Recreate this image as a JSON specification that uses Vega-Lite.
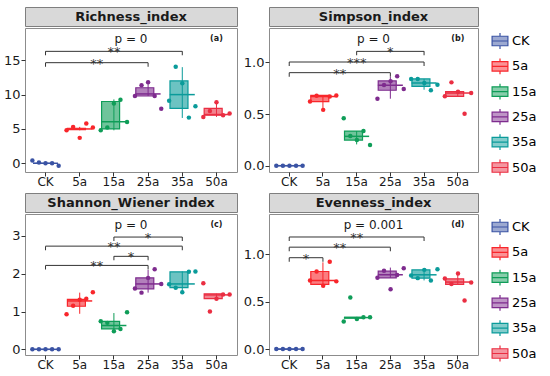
{
"$schema":"https://vega.github.io/schema/vega-lite/v6.json",
"padding":{"left":2,"top":6,"right":0,"bottom":0},
"config":{"font":"DejaVu Sans","view":{"stroke":"#8c8c8c","strokeWidth":1},
 "axis":{"grid":false,"domain":false,"tickColor":"#333333","tickSize":4,"labelColor":"#1a1a1a","labelFontSize":13,"labelPadding":1,"title":null},
 "axisX":{"labelFontSize":12,"labelPadding":0},
 "legend":{"labelFontSize":13,"labelOffset":3,"symbolType":"M-1,-0.6H1V0.6H-1Z M-1,0H1 M0,-1V-0.6 M0,0.6V1","symbolSize":250,"symbolStrokeWidth":1.2,"rowPadding":3.3,"padding":0}},
"datasets":{
"pts":[
{"p":"a","g":"CK","r":1,"v":0.4},{"p":"a","g":"CK","r":2,"v":0.1},{"p":"a","g":"CK","r":3,"v":0.0},{"p":"a","g":"CK","r":4,"v":0.0},{"p":"a","g":"CK","r":5,"v":-0.35},
{"p":"a","g":"5a","r":1,"v":4.8},{"p":"a","g":"5a","r":2,"v":5.3},{"p":"a","g":"5a","r":3,"v":3.7},{"p":"a","g":"5a","r":4,"v":5.8},{"p":"a","g":"5a","r":5,"v":5.2},
{"p":"a","g":"15a","r":1,"v":4.8},{"p":"a","g":"15a","r":2,"v":5.2},{"p":"a","g":"15a","r":3,"v":8.7},{"p":"a","g":"15a","r":4,"v":9.25},{"p":"a","g":"15a","r":5,"v":6.0},
{"p":"a","g":"25a","r":1,"v":9.8},{"p":"a","g":"25a","r":2,"v":11.35},{"p":"a","g":"25a","r":3,"v":11.8},{"p":"a","g":"25a","r":4,"v":9.8},{"p":"a","g":"25a","r":5,"v":7.95},
{"p":"a","g":"35a","r":1,"v":9.1},{"p":"a","g":"35a","r":2,"v":14.05},{"p":"a","g":"35a","r":3,"v":11.65},{"p":"a","g":"35a","r":4,"v":6.65},{"p":"a","g":"35a","r":5,"v":8.3},
{"p":"a","g":"50a","r":1,"v":6.75},{"p":"a","g":"50a","r":2,"v":7.6},{"p":"a","g":"50a","r":3,"v":8.9},{"p":"a","g":"50a","r":4,"v":7.0},{"p":"a","g":"50a","r":5,"v":7.25},
{"p":"b","g":"CK","r":1,"v":0},{"p":"b","g":"CK","r":2,"v":0},{"p":"b","g":"CK","r":3,"v":0},{"p":"b","g":"CK","r":4,"v":0},{"p":"b","g":"CK","r":5,"v":0},
{"p":"b","g":"5a","r":1,"v":0.62},{"p":"b","g":"5a","r":2,"v":0.677},{"p":"b","g":"5a","r":3,"v":0.54},{"p":"b","g":"5a","r":4,"v":0.67},{"p":"b","g":"5a","r":5,"v":0.68},
{"p":"b","g":"15a","r":1,"v":0.46},{"p":"b","g":"15a","r":2,"v":0.287},{"p":"b","g":"15a","r":3,"v":0.248},{"p":"b","g":"15a","r":4,"v":0.335},{"p":"b","g":"15a","r":5,"v":0.2},
{"p":"b","g":"25a","r":1,"v":0.648},{"p":"b","g":"25a","r":2,"v":0.78},{"p":"b","g":"25a","r":3,"v":0.816},{"p":"b","g":"25a","r":4,"v":0.865},{"p":"b","g":"25a","r":5,"v":0.742},
{"p":"b","g":"35a","r":1,"v":0.839},{"p":"b","g":"35a","r":2,"v":0.839},{"p":"b","g":"35a","r":3,"v":0.8},{"p":"b","g":"35a","r":4,"v":0.729},{"p":"b","g":"35a","r":5,"v":0.784},
{"p":"b","g":"50a","r":1,"v":0.671},{"p":"b","g":"50a","r":2,"v":0.806},{"p":"b","g":"50a","r":3,"v":0.716},{"p":"b","g":"50a","r":4,"v":0.503},{"p":"b","g":"50a","r":5,"v":0.703},
{"p":"c","g":"CK","r":1,"v":0},{"p":"c","g":"CK","r":2,"v":0},{"p":"c","g":"CK","r":3,"v":0},{"p":"c","g":"CK","r":4,"v":0},{"p":"c","g":"CK","r":5,"v":0},
{"p":"c","g":"5a","r":1,"v":0.93},{"p":"c","g":"5a","r":2,"v":1.15},{"p":"c","g":"5a","r":3,"v":1.31},{"p":"c","g":"5a","r":4,"v":1.34},{"p":"c","g":"5a","r":5,"v":1.51},
{"p":"c","g":"15a","r":1,"v":0.74},{"p":"c","g":"15a","r":2,"v":0.7},{"p":"c","g":"15a","r":3,"v":0.48},{"p":"c","g":"15a","r":4,"v":0.54},{"p":"c","g":"15a","r":5,"v":0.98},
{"p":"c","g":"25a","r":1,"v":1.61},{"p":"c","g":"25a","r":2,"v":1.5},{"p":"c","g":"25a","r":3,"v":1.89},{"p":"c","g":"25a","r":4,"v":2.12},{"p":"c","g":"25a","r":5,"v":1.73},
{"p":"c","g":"35a","r":1,"v":1.72},{"p":"c","g":"35a","r":2,"v":1.63},{"p":"c","g":"35a","r":3,"v":1.51},{"p":"c","g":"35a","r":4,"v":2.05},{"p":"c","g":"35a","r":5,"v":2.06},
{"p":"c","g":"50a","r":1,"v":1.75},{"p":"c","g":"50a","r":2,"v":1.0},{"p":"c","g":"50a","r":3,"v":1.34},{"p":"c","g":"50a","r":4,"v":1.45},{"p":"c","g":"50a","r":5,"v":1.45},
{"p":"d","g":"CK","r":1,"v":0},{"p":"d","g":"CK","r":2,"v":0},{"p":"d","g":"CK","r":3,"v":0},{"p":"d","g":"CK","r":4,"v":0},{"p":"d","g":"CK","r":5,"v":0},
{"p":"d","g":"5a","r":1,"v":0.723},{"p":"d","g":"5a","r":2,"v":0.817},{"p":"d","g":"5a","r":3,"v":0.668},{"p":"d","g":"5a","r":4,"v":0.92},{"p":"d","g":"5a","r":5,"v":0.713},
{"p":"d","g":"15a","r":1,"v":0.29},{"p":"d","g":"15a","r":2,"v":0.543},{"p":"d","g":"15a","r":3,"v":0.318},{"p":"d","g":"15a","r":4,"v":0.336},{"p":"d","g":"15a","r":5,"v":0.336},
{"p":"d","g":"25a","r":1,"v":0.75},{"p":"d","g":"25a","r":2,"v":0.824},{"p":"d","g":"25a","r":3,"v":0.63},{"p":"d","g":"25a","r":4,"v":0.78},{"p":"d","g":"25a","r":5,"v":0.851},
{"p":"d","g":"35a","r":1,"v":0.775},{"p":"d","g":"35a","r":2,"v":0.747},{"p":"d","g":"35a","r":3,"v":0.834},{"p":"d","g":"35a","r":4,"v":0.723},{"p":"d","g":"35a","r":5,"v":0.84},
{"p":"d","g":"50a","r":1,"v":0.744},{"p":"d","g":"50a","r":2,"v":0.685},{"p":"d","g":"50a","r":3,"v":0.796},{"p":"d","g":"50a","r":4,"v":0.512},{"p":"d","g":"50a","r":5,"v":0.702}
],
"box":[
{"p":"a","g":"CK","lo":0,"q1":0,"md":0,"q3":0,"hi":0},
{"p":"a","g":"5a","lo":4.8,"q1":4.9,"md":5.0,"q3":5.1,"hi":5.3},
{"p":"a","g":"15a","lo":4.8,"q1":5.0,"md":6.05,"q3":9.0,"hi":9.3},
{"p":"a","g":"25a","lo":9.8,"q1":9.8,"md":10.1,"q3":11.0,"hi":12.0},
{"p":"a","g":"35a","lo":6.6,"q1":8.0,"md":10.0,"q3":12.0,"hi":14.0},
{"p":"a","g":"50a","lo":6.75,"q1":7.0,"md":7.1,"q3":8.0,"hi":9.0},
{"p":"b","g":"CK","lo":0,"q1":0,"md":0,"q3":0,"hi":0},
{"p":"b","g":"5a","lo":0.545,"q1":0.62,"md":0.67,"q3":0.68,"hi":0.68},
{"p":"b","g":"15a","lo":0.206,"q1":0.248,"md":0.284,"q3":0.335,"hi":0.335},
{"p":"b","g":"25a","lo":0.648,"q1":0.73,"md":0.777,"q3":0.82,"hi":0.858},
{"p":"b","g":"35a","lo":0.735,"q1":0.768,"md":0.8,"q3":0.839,"hi":0.839},
{"p":"b","g":"50a","lo":0.671,"q1":0.671,"md":0.703,"q3":0.716,"hi":0.716},
{"p":"c","g":"CK","lo":0,"q1":0,"md":0,"q3":0,"hi":0},
{"p":"c","g":"5a","lo":0.94,"q1":1.14,"md":1.28,"q3":1.32,"hi":1.5},
{"p":"c","g":"15a","lo":0.48,"q1":0.54,"md":0.63,"q3":0.74,"hi":0.96},
{"p":"c","g":"25a","lo":1.5,"q1":1.6,"md":1.73,"q3":1.89,"hi":2.1},
{"p":"c","g":"35a","lo":1.51,"q1":1.63,"md":1.73,"q3":2.05,"hi":2.06},
{"p":"c","g":"50a","lo":1.34,"q1":1.34,"md":1.44,"q3":1.47,"hi":1.47},
{"p":"d","g":"CK","lo":0,"q1":0,"md":0,"q3":0,"hi":0},
{"p":"d","g":"5a","lo":0.668,"q1":0.682,"md":0.723,"q3":0.817,"hi":0.913},
{"p":"d","g":"15a","lo":0.325,"q1":0.325,"md":0.332,"q3":0.335,"hi":0.335},
{"p":"d","g":"25a","lo":0.75,"q1":0.75,"md":0.782,"q3":0.82,"hi":0.858},
{"p":"d","g":"35a","lo":0.723,"q1":0.747,"md":0.782,"q3":0.834,"hi":0.84},
{"p":"d","g":"50a","lo":0.682,"q1":0.682,"md":0.706,"q3":0.74,"hi":0.79}
],
"br":[
{"p":"a","g1":"CK","g2":"25a","y":14.65,"s":"**","m":"5a","e":1},
{"p":"a","g1":"CK","g2":"35a","y":16.3,"s":"**","m":"15a","e":0},
{"p":"b","g1":"CK","g2":"25a","y":0.9,"s":"**","m":"5a","e":1},
{"p":"b","g1":"CK","g2":"35a","y":1.003,"s":"***","m":"15a","e":0},
{"p":"b","g1":"15a","g2":"35a","y":1.106,"s":"*","m":"25a","e":0},
{"p":"c","g1":"CK","g2":"25a","y":2.22,"s":"**","m":"5a","e":1},
{"p":"c","g1":"15a","g2":"25a","y":2.46,"s":"*","m":"15a","e":1},
{"p":"c","g1":"CK","g2":"35a","y":2.73,"s":"**","m":"15a","e":0},
{"p":"c","g1":"15a","g2":"35a","y":2.97,"s":"*","m":"25a","e":0},
{"p":"d","g1":"CK","g2":"5a","y":0.962,"s":"*","m":"CK","e":1},
{"p":"d","g1":"CK","g2":"25a","y":1.073,"s":"**","m":"5a","e":1},
{"p":"d","g1":"CK","g2":"35a","y":1.18,"s":"**","m":"15a","e":0}
],
"notes":[
{"p":"a","pv":"p = 0","tag":"(a)","y":18.05},
{"p":"b","pv":"p = 0","tag":"(b)","y":1.223},
{"p":"c","pv":"p = 0","tag":"(c)","y":3.28},
{"p":"d","pv":"p = 0.001","tag":"(d)","y":1.31}
]
},
"spacing":4,
"resolve":{"scale":{"fill":"independent","stroke":"independent"},"legend":{"fill":"independent","stroke":"independent"}},
"vconcat":[
{"spacing":4,"hconcat":[
 {"spacing":0,"vconcat":[
  {"width":212,"height":19,"view":{"fill":"#D9D9D9","stroke":"#7f7f7f"},"data":{"values":[{"t":"Richness_index"}]},"mark":{"type":"text","fontWeight":"bold","fontSize":13,"color":"#1a1a1a"},"encoding":{"text":{"field":"t"}}},
  {"width":212,"height":144,"layer":[
   {"data":{"name":"box"},"transform":[{"filter":"datum.p=='a'"}],"mark":{"type":"rule","strokeWidth":1},"encoding":{"x":{"field":"g","type":"nominal","scale":{"domain":["CK","5a","15a","25a","35a","50a"],"paddingInner":0,"paddingOuter":0.1},"axis":{"labelAngle":0,"title":null}},"y":{"field":"lo","type":"quantitative","scale":{"domain":[-1.27,19.7],"nice":false,"zero":false},"axis":{"values":[0,5,10,15],"format":"d","title":null}},"y2":{"field":"hi"},"stroke":{"field":"g","type":"nominal","scale":{"domain":["CK","5a","15a","25a","35a","50a"],"range":["#3A53A4","#F8262B","#0F9D58","#7E2B8E","#0A9B9A","#EA2E42"]},"legend":{"title":null,"orient":"none","legendX":466,"legendY":25,"encode":{"symbols":{"update":{"fillOpacity":{"value":0.5}}}}}}}},
   {"data":{"name":"box"},"transform":[{"filter":"datum.p=='a'"}],"mark":{"type":"bar","width":{"band":0.72},"fillOpacity":0.6,"strokeWidth":1.2},"encoding":{"x":{"field":"g","type":"nominal"},"y":{"field":"q1","type":"quantitative"},"y2":{"field":"q3"},"fill":{"field":"g","type":"nominal","scale":{"domain":["CK","5a","15a","25a","35a","50a"],"range":["#3A53A4","#F8262B","#0F9D58","#7E2B8E","#0A9B9A","#EA2E42"]},"legend":{"title":null,"orient":"none","legendX":466,"legendY":25,"encode":{"symbols":{"update":{"fillOpacity":{"value":0.5}}}}}},"stroke":{"field":"g","type":"nominal"}}},
   {"data":{"name":"box"},"transform":[{"filter":"datum.p=='a'"}],"mark":{"type":"tick","orient":"horizontal","size":25,"thickness":1.5,"opacity":1},"encoding":{"x":{"field":"g","type":"nominal"},"y":{"field":"md","type":"quantitative"},"fill":{"field":"g","type":"nominal"}}},
   {"data":{"name":"pts"},"transform":[{"filter":"datum.p=='a'"}],"mark":{"type":"circle","size":20,"opacity":1},"encoding":{"x":{"field":"g","type":"nominal"},"xOffset":{"field":"r","type":"nominal","scale":{"paddingInner":0,"paddingOuter":0.6}},"y":{"field":"v","type":"quantitative"},"fill":{"field":"g","type":"nominal"}}},
   {"data":{"name":"br"},"transform":[{"filter":"datum.p=='a'"}],"mark":{"type":"rule","color":"#333333","strokeWidth":1},"encoding":{"x":{"field":"g1","type":"nominal"},"x2":{"field":"g2"},"y":{"field":"y","type":"quantitative"}}},
   {"data":{"name":"br"},"transform":[{"filter":"datum.p=='a'"}],"mark":{"type":"tick","orient":"vertical","size":4,"yOffset":2,"thickness":1,"color":"#333333","opacity":1},"encoding":{"x":{"field":"g1","type":"nominal"},"y":{"field":"y","type":"quantitative"}}},
   {"data":{"name":"br"},"transform":[{"filter":"datum.p=='a'"}],"mark":{"type":"tick","orient":"vertical","size":4,"yOffset":2,"thickness":1,"color":"#333333","opacity":1},"encoding":{"x":{"field":"g2","type":"nominal"},"y":{"field":"y","type":"quantitative"}}},
   {"data":{"name":"br"},"transform":[{"filter":"datum.p=='a' && datum.e==1"}],"mark":{"type":"text","fontSize":13,"color":"#333333","dy":5,"baseline":"alphabetic"},"encoding":{"x":{"field":"m","type":"nominal","bandPosition":1},"y":{"field":"y","type":"quantitative"},"text":{"field":"s"}}},
   {"data":{"name":"br"},"transform":[{"filter":"datum.p=='a' && datum.e==0"}],"mark":{"type":"text","fontSize":13,"color":"#333333","dy":5,"baseline":"alphabetic"},"encoding":{"x":{"field":"m","type":"nominal","bandPosition":0.5},"y":{"field":"y","type":"quantitative"},"text":{"field":"s"}}},
   {"data":{"name":"notes"},"transform":[{"filter":"datum.p=='a'"}],"mark":{"type":"text","fontSize":12,"color":"#1a1a1a"},"encoding":{"x":{"datum":"15a","bandPosition":1},"y":{"field":"y","type":"quantitative"},"text":{"field":"pv"}}},
   {"data":{"name":"notes"},"transform":[{"filter":"datum.p=='a'"}],"mark":{"type":"text","fontSize":8,"fontWeight":"bold","color":"#1a1a1a"},"encoding":{"x":{"datum":"50a"},"y":{"field":"y","type":"quantitative"},"text":{"field":"tag"}}}
  ]}
 ]},
 {"spacing":0,"vconcat":[
  {"width":209,"height":19,"view":{"fill":"#D9D9D9","stroke":"#7f7f7f"},"data":{"values":[{"t":"Simpson_index"}]},"mark":{"type":"text","fontWeight":"bold","fontSize":13,"color":"#1a1a1a"},"encoding":{"text":{"field":"t"}}},
  {"width":209,"height":144,"layer":[
   {"data":{"name":"box"},"transform":[{"filter":"datum.p=='b'"}],"mark":{"type":"rule","strokeWidth":1},"encoding":{"x":{"field":"g","type":"nominal","scale":{"domain":["CK","5a","15a","25a","35a","50a"],"paddingInner":0,"paddingOuter":0.1},"axis":{"labelAngle":0,"title":null}},"y":{"field":"lo","type":"quantitative","scale":{"domain":[-0.061,1.332],"nice":false,"zero":false},"axis":{"values":[0,0.5,1],"format":".1f","title":null}},"y2":{"field":"hi"},"stroke":{"field":"g","type":"nominal"}}},
   {"data":{"name":"box"},"transform":[{"filter":"datum.p=='b'"}],"mark":{"type":"bar","width":{"band":0.72},"fillOpacity":0.6,"strokeWidth":1.2},"encoding":{"x":{"field":"g","type":"nominal"},"y":{"field":"q1","type":"quantitative"},"y2":{"field":"q3"},"fill":{"field":"g","type":"nominal"},"stroke":{"field":"g","type":"nominal"}}},
   {"data":{"name":"box"},"transform":[{"filter":"datum.p=='b'"}],"mark":{"type":"tick","orient":"horizontal","size":25,"thickness":1.5,"opacity":1},"encoding":{"x":{"field":"g","type":"nominal"},"y":{"field":"md","type":"quantitative"},"fill":{"field":"g","type":"nominal"}}},
   {"data":{"name":"pts"},"transform":[{"filter":"datum.p=='b'"}],"mark":{"type":"circle","size":20,"opacity":1},"encoding":{"x":{"field":"g","type":"nominal"},"xOffset":{"field":"r","type":"nominal","scale":{"paddingInner":0,"paddingOuter":0.6}},"y":{"field":"v","type":"quantitative"},"fill":{"field":"g","type":"nominal"}}},
   {"data":{"name":"br"},"transform":[{"filter":"datum.p=='b'"}],"mark":{"type":"rule","color":"#333333","strokeWidth":1},"encoding":{"x":{"field":"g1","type":"nominal"},"x2":{"field":"g2"},"y":{"field":"y","type":"quantitative"}}},
   {"data":{"name":"br"},"transform":[{"filter":"datum.p=='b'"}],"mark":{"type":"tick","orient":"vertical","size":4,"yOffset":2,"thickness":1,"color":"#333333","opacity":1},"encoding":{"x":{"field":"g1","type":"nominal"},"y":{"field":"y","type":"quantitative"}}},
   {"data":{"name":"br"},"transform":[{"filter":"datum.p=='b'"}],"mark":{"type":"tick","orient":"vertical","size":4,"yOffset":2,"thickness":1,"color":"#333333","opacity":1},"encoding":{"x":{"field":"g2","type":"nominal"},"y":{"field":"y","type":"quantitative"}}},
   {"data":{"name":"br"},"transform":[{"filter":"datum.p=='b' && datum.e==1"}],"mark":{"type":"text","fontSize":13,"color":"#333333","dy":5,"baseline":"alphabetic"},"encoding":{"x":{"field":"m","type":"nominal","bandPosition":1},"y":{"field":"y","type":"quantitative"},"text":{"field":"s"}}},
   {"data":{"name":"br"},"transform":[{"filter":"datum.p=='b' && datum.e==0"}],"mark":{"type":"text","fontSize":13,"color":"#333333","dy":5,"baseline":"alphabetic"},"encoding":{"x":{"field":"m","type":"nominal","bandPosition":0.5},"y":{"field":"y","type":"quantitative"},"text":{"field":"s"}}},
   {"data":{"name":"notes"},"transform":[{"filter":"datum.p=='b'"}],"mark":{"type":"text","fontSize":12,"color":"#1a1a1a"},"encoding":{"x":{"datum":"15a","bandPosition":1},"y":{"field":"y","type":"quantitative"},"text":{"field":"pv"}}},
   {"data":{"name":"notes"},"transform":[{"filter":"datum.p=='b'"}],"mark":{"type":"text","fontSize":8,"fontWeight":"bold","color":"#1a1a1a"},"encoding":{"x":{"datum":"50a"},"y":{"field":"y","type":"quantitative"},"text":{"field":"tag"}}}
  ]}
 ]}
]},
{"spacing":4,"hconcat":[
 {"spacing":0,"vconcat":[
  {"width":212,"height":19,"view":{"fill":"#D9D9D9","stroke":"#7f7f7f"},"data":{"values":[{"t":"Shannon_Wiener index"}]},"mark":{"type":"text","fontWeight":"bold","fontSize":13,"color":"#1a1a1a"},"encoding":{"text":{"field":"t"}}},
  {"width":212,"height":141,"layer":[
   {"data":{"name":"box"},"transform":[{"filter":"datum.p=='c'"}],"mark":{"type":"rule","strokeWidth":1},"encoding":{"x":{"field":"g","type":"nominal","scale":{"domain":["CK","5a","15a","25a","35a","50a"],"paddingInner":0,"paddingOuter":0.1},"axis":{"labelAngle":0,"title":null}},"y":{"field":"lo","type":"quantitative","scale":{"domain":[-0.15,3.58],"nice":false,"zero":false},"axis":{"values":[0,1,2,3],"format":"d","title":null}},"y2":{"field":"hi"},"stroke":{"field":"g","type":"nominal","scale":{"domain":["CK","5a","15a","25a","35a","50a"],"range":["#3A53A4","#F8262B","#0F9D58","#7E2B8E","#0A9B9A","#EA2E42"]},"legend":{"title":null,"orient":"none","legendX":466,"legendY":25,"encode":{"symbols":{"update":{"fillOpacity":{"value":0.5}}}}}}}},
   {"data":{"name":"box"},"transform":[{"filter":"datum.p=='c'"}],"mark":{"type":"bar","width":{"band":0.72},"fillOpacity":0.6,"strokeWidth":1.2},"encoding":{"x":{"field":"g","type":"nominal"},"y":{"field":"q1","type":"quantitative"},"y2":{"field":"q3"},"fill":{"field":"g","type":"nominal","scale":{"domain":["CK","5a","15a","25a","35a","50a"],"range":["#3A53A4","#F8262B","#0F9D58","#7E2B8E","#0A9B9A","#EA2E42"]},"legend":{"title":null,"orient":"none","legendX":466,"legendY":25,"encode":{"symbols":{"update":{"fillOpacity":{"value":0.5}}}}}},"stroke":{"field":"g","type":"nominal"}}},
   {"data":{"name":"box"},"transform":[{"filter":"datum.p=='c'"}],"mark":{"type":"tick","orient":"horizontal","size":25,"thickness":1.5,"opacity":1},"encoding":{"x":{"field":"g","type":"nominal"},"y":{"field":"md","type":"quantitative"},"fill":{"field":"g","type":"nominal"}}},
   {"data":{"name":"pts"},"transform":[{"filter":"datum.p=='c'"}],"mark":{"type":"circle","size":20,"opacity":1},"encoding":{"x":{"field":"g","type":"nominal"},"xOffset":{"field":"r","type":"nominal","scale":{"paddingInner":0,"paddingOuter":0.6}},"y":{"field":"v","type":"quantitative"},"fill":{"field":"g","type":"nominal"}}},
   {"data":{"name":"br"},"transform":[{"filter":"datum.p=='c'"}],"mark":{"type":"rule","color":"#333333","strokeWidth":1},"encoding":{"x":{"field":"g1","type":"nominal"},"x2":{"field":"g2"},"y":{"field":"y","type":"quantitative"}}},
   {"data":{"name":"br"},"transform":[{"filter":"datum.p=='c'"}],"mark":{"type":"tick","orient":"vertical","size":4,"yOffset":2,"thickness":1,"color":"#333333","opacity":1},"encoding":{"x":{"field":"g1","type":"nominal"},"y":{"field":"y","type":"quantitative"}}},
   {"data":{"name":"br"},"transform":[{"filter":"datum.p=='c'"}],"mark":{"type":"tick","orient":"vertical","size":4,"yOffset":2,"thickness":1,"color":"#333333","opacity":1},"encoding":{"x":{"field":"g2","type":"nominal"},"y":{"field":"y","type":"quantitative"}}},
   {"data":{"name":"br"},"transform":[{"filter":"datum.p=='c' && datum.e==1"}],"mark":{"type":"text","fontSize":13,"color":"#333333","dy":5,"baseline":"alphabetic"},"encoding":{"x":{"field":"m","type":"nominal","bandPosition":1},"y":{"field":"y","type":"quantitative"},"text":{"field":"s"}}},
   {"data":{"name":"br"},"transform":[{"filter":"datum.p=='c' && datum.e==0"}],"mark":{"type":"text","fontSize":13,"color":"#333333","dy":5,"baseline":"alphabetic"},"encoding":{"x":{"field":"m","type":"nominal","bandPosition":0.5},"y":{"field":"y","type":"quantitative"},"text":{"field":"s"}}},
   {"data":{"name":"notes"},"transform":[{"filter":"datum.p=='c'"}],"mark":{"type":"text","fontSize":12,"color":"#1a1a1a"},"encoding":{"x":{"datum":"15a","bandPosition":1},"y":{"field":"y","type":"quantitative"},"text":{"field":"pv"}}},
   {"data":{"name":"notes"},"transform":[{"filter":"datum.p=='c'"}],"mark":{"type":"text","fontSize":8,"fontWeight":"bold","color":"#1a1a1a"},"encoding":{"x":{"datum":"50a"},"y":{"field":"y","type":"quantitative"},"text":{"field":"tag"}}}
  ]}
 ]},
 {"spacing":0,"vconcat":[
  {"width":209,"height":19,"view":{"fill":"#D9D9D9","stroke":"#7f7f7f"},"data":{"values":[{"t":"Evenness_index"}]},"mark":{"type":"text","fontWeight":"bold","fontSize":13,"color":"#1a1a1a"},"encoding":{"text":{"field":"t"}}},
  {"width":209,"height":141,"layer":[
   {"data":{"name":"box"},"transform":[{"filter":"datum.p=='d'"}],"mark":{"type":"rule","strokeWidth":1},"encoding":{"x":{"field":"g","type":"nominal","scale":{"domain":["CK","5a","15a","25a","35a","50a"],"paddingInner":0,"paddingOuter":0.1},"axis":{"labelAngle":0,"title":null}},"y":{"field":"lo","type":"quantitative","scale":{"domain":[-0.062,1.422],"nice":false,"zero":false},"axis":{"values":[0,0.5,1],"format":".1f","title":null}},"y2":{"field":"hi"},"stroke":{"field":"g","type":"nominal"}}},
   {"data":{"name":"box"},"transform":[{"filter":"datum.p=='d'"}],"mark":{"type":"bar","width":{"band":0.72},"fillOpacity":0.6,"strokeWidth":1.2},"encoding":{"x":{"field":"g","type":"nominal"},"y":{"field":"q1","type":"quantitative"},"y2":{"field":"q3"},"fill":{"field":"g","type":"nominal"},"stroke":{"field":"g","type":"nominal"}}},
   {"data":{"name":"box"},"transform":[{"filter":"datum.p=='d'"}],"mark":{"type":"tick","orient":"horizontal","size":25,"thickness":1.5,"opacity":1},"encoding":{"x":{"field":"g","type":"nominal"},"y":{"field":"md","type":"quantitative"},"fill":{"field":"g","type":"nominal"}}},
   {"data":{"name":"pts"},"transform":[{"filter":"datum.p=='d'"}],"mark":{"type":"circle","size":20,"opacity":1},"encoding":{"x":{"field":"g","type":"nominal"},"xOffset":{"field":"r","type":"nominal","scale":{"paddingInner":0,"paddingOuter":0.6}},"y":{"field":"v","type":"quantitative"},"fill":{"field":"g","type":"nominal"}}},
   {"data":{"name":"br"},"transform":[{"filter":"datum.p=='d'"}],"mark":{"type":"rule","color":"#333333","strokeWidth":1},"encoding":{"x":{"field":"g1","type":"nominal"},"x2":{"field":"g2"},"y":{"field":"y","type":"quantitative"}}},
   {"data":{"name":"br"},"transform":[{"filter":"datum.p=='d'"}],"mark":{"type":"tick","orient":"vertical","size":4,"yOffset":2,"thickness":1,"color":"#333333","opacity":1},"encoding":{"x":{"field":"g1","type":"nominal"},"y":{"field":"y","type":"quantitative"}}},
   {"data":{"name":"br"},"transform":[{"filter":"datum.p=='d'"}],"mark":{"type":"tick","orient":"vertical","size":4,"yOffset":2,"thickness":1,"color":"#333333","opacity":1},"encoding":{"x":{"field":"g2","type":"nominal"},"y":{"field":"y","type":"quantitative"}}},
   {"data":{"name":"br"},"transform":[{"filter":"datum.p=='d' && datum.e==1"}],"mark":{"type":"text","fontSize":13,"color":"#333333","dy":5,"baseline":"alphabetic"},"encoding":{"x":{"field":"m","type":"nominal","bandPosition":1},"y":{"field":"y","type":"quantitative"},"text":{"field":"s"}}},
   {"data":{"name":"br"},"transform":[{"filter":"datum.p=='d' && datum.e==0"}],"mark":{"type":"text","fontSize":13,"color":"#333333","dy":5,"baseline":"alphabetic"},"encoding":{"x":{"field":"m","type":"nominal","bandPosition":0.5},"y":{"field":"y","type":"quantitative"},"text":{"field":"s"}}},
   {"data":{"name":"notes"},"transform":[{"filter":"datum.p=='d'"}],"mark":{"type":"text","fontSize":12,"color":"#1a1a1a"},"encoding":{"x":{"datum":"15a","bandPosition":1},"y":{"field":"y","type":"quantitative"},"text":{"field":"pv"}}},
   {"data":{"name":"notes"},"transform":[{"filter":"datum.p=='d'"}],"mark":{"type":"text","fontSize":8,"fontWeight":"bold","color":"#1a1a1a"},"encoding":{"x":{"datum":"50a"},"y":{"field":"y","type":"quantitative"},"text":{"field":"tag"}}}
  ]}
 ]}
]}
]
}
